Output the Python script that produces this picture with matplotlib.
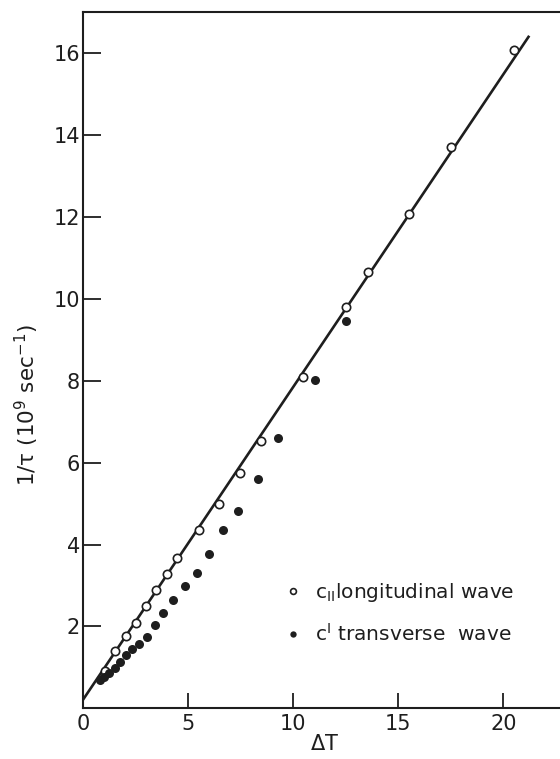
import numpy as np
import matplotlib
matplotlib.use("Agg")
import matplotlib.pyplot as plt

# dati
long_x = [1.05, 1.5, 2.05, 2.5, 3.0, 3.48, 4.0, 4.47, 5.5, 6.47, 7.46, 8.48,
          10.46, 12.53, 13.55, 15.5, 17.5, 20.5]
long_y = [0.90, 1.39, 1.77, 2.09, 2.50, 2.89, 3.27, 3.66, 4.35, 4.99, 5.75, 6.54,
          8.10, 9.79, 10.66, 12.08, 13.70, 16.07]

trans_x = [0.8, 1.0, 1.2, 1.51, 1.76, 2.03, 2.3, 2.65, 3.01, 3.4, 3.8, 4.28,
           4.83, 5.43, 6.0, 6.67, 7.35, 8.31, 9.27, 11.03, 12.53]
trans_y = [0.68, 0.77, 0.87, 0.99, 1.14, 1.29, 1.44, 1.58, 1.75, 2.03, 2.32, 2.64,
           2.98, 3.31, 3.77, 4.35, 4.83, 5.59, 6.60, 8.03, 9.45]

fit_x = [0.0, 21.2]
fit_y = [0.22, 16.4]

xticks = [0, 5, 10, 15, 20]
yticks = [2, 4, 6, 8, 10, 12, 14, 16]

ink = "#1e1e1e"
plt.rcParams['font.family'] = ['DejaVu Sans']

fig = plt.figure(figsize=(5.6, 7.59), dpi=100)
# l'asse continua oltre il bordo destro (immagine tagliata)
ax = fig.add_axes([83.3/560, 50.7/759, 525/560, 696/759])

ax.plot(fit_x, fit_y, "-", color=ink, lw=1.9, zorder=2)
ax.plot(long_x, long_y, "o", ms=6, mfc="white", mec=ink, mew=1.2, zorder=3,
        label=r"c$_{\mathregular{II}}$longitudinal wave")
ax.plot(trans_x, trans_y, "o", ms=6.5, color=ink, mew=0, zorder=3,
        label=r"c$^{\mathregular{I}}$ transverse  wave")

ax.set_xlim(0, 25)
ax.set_ylim(0, 17)
ax.set_xticks(xticks)
ax.set_yticks(yticks)
ax.tick_params(axis="x", direction="in", length=11, width=1.3, pad=4,
               labelsize=15, colors=ink)
ax.tick_params(axis="y", direction="in", length=13, width=1.3, pad=2.5,
               labelsize=15, colors=ink)
for s in ["left", "top", "bottom"]:
    ax.spines[s].set_linewidth(1.5)
    ax.spines[s].set_color(ink)
ax.spines["right"].set_visible(False)

ax.set_xlabel(r"$\mathregular{\Delta T}$", fontsize=15, color=ink, va="top")
ax.xaxis.set_label_coords(0.46, -0.037)
ax.set_ylabel(r"$\mathregular{1/\tau\ (10^9\ sec^{-1})}$", fontsize=15.5,
              color=ink, va="center")
ax.yaxis.set_label_coords(-0.108, 0.436)

leg = ax.legend(loc="upper left", bbox_to_anchor=(0.38, 0.183), frameon=False,
                fontsize=14.5, handlelength=1.0, handletextpad=0.6,
                borderpad=0, borderaxespad=0, labelspacing=0.95,
                markerscale=0.7)
for t in leg.get_texts():
    t.set_color(ink)

fig.savefig("out.png", dpi=100)
